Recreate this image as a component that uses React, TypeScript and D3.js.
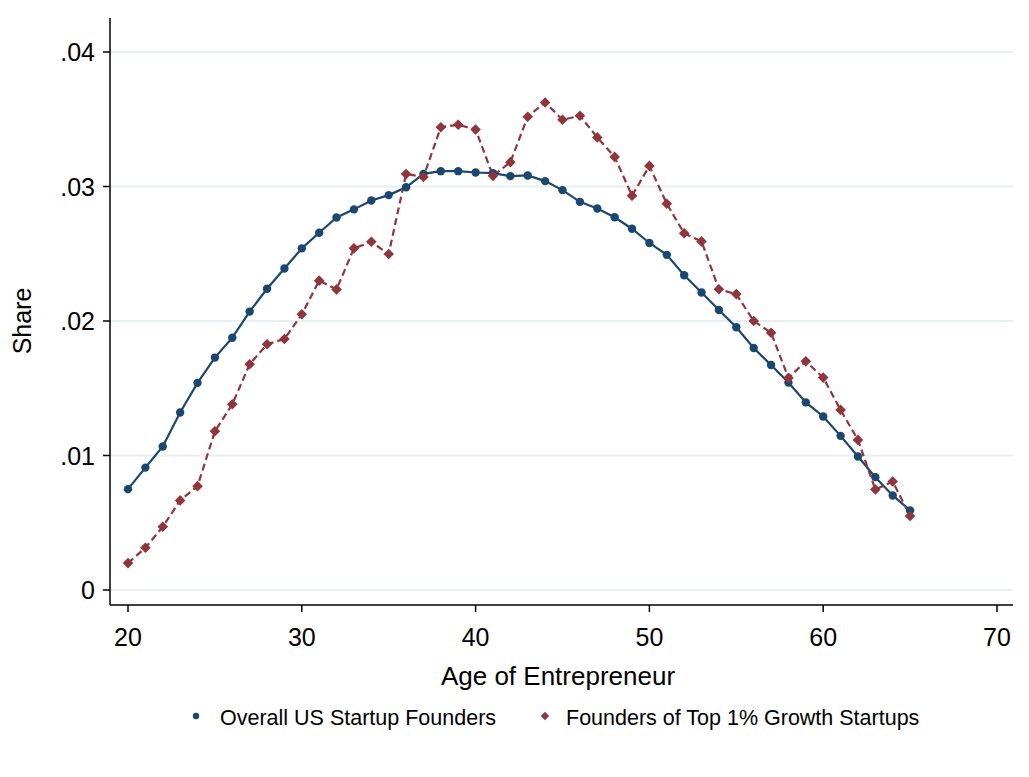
import React from "react";
import * as d3 from "d3";

const ages = d3.range(20, 66);

const overallShare = [
  0.0075, 0.0091, 0.01067, 0.0132, 0.0154, 0.01728, 0.01876, 0.0207, 0.0224, 0.0239,
  0.0254, 0.02656, 0.0277, 0.0283, 0.02896, 0.02936, 0.02994, 0.03094, 0.03114, 0.03114,
  0.03104, 0.03099, 0.03077, 0.03082, 0.0304, 0.02973, 0.02886, 0.02836, 0.02771, 0.02686,
  0.0258, 0.02492, 0.0234, 0.02212, 0.02082, 0.01954, 0.01799, 0.01673, 0.01542, 0.01395,
  0.0129, 0.01146, 0.00993, 0.00839, 0.00703, 0.00592,
];

const topGrowthShare = [
  0.002, 0.00314, 0.0047, 0.00666, 0.00772, 0.0118, 0.01381, 0.01678, 0.01827, 0.01866,
  0.0205, 0.023, 0.02235, 0.0254, 0.02589, 0.02498, 0.03093, 0.03071, 0.03441, 0.03459,
  0.03424, 0.03079, 0.03181, 0.03519, 0.03625, 0.03496, 0.03526, 0.03365, 0.0322, 0.02932,
  0.03153, 0.02872, 0.02652, 0.02592, 0.02236, 0.022, 0.02, 0.01913, 0.01577, 0.017,
  0.01579, 0.01339, 0.01116, 0.00747, 0.00807, 0.0055,
];

const xTicks = [20, 30, 40, 50, 60, 70];
const yTicks = [0, 0.01, 0.02, 0.03, 0.04];
const yTickLabels = ["0", ".01", ".02", ".03", ".04"];

const seriesNames = ["Overall US Startup Founders", "Founders of Top 1% Growth Startups"];

const BLUE = "#1a476f";
const RED = "#90353b";
const GRID = "#e8eff2";
const FONT = "'Liberation Sans', Arial, sans-serif";

const W = 1029;
const H = 777;
const axisLeft = 110;
const axisBottom = 605;
const plotRight = 1013;
const plotTop = 18;

export default function App() {
  const x = d3.scaleLinear().domain([20, 70]).range([128, 997]);
  const y = d3.scaleLinear().domain([0, 0.04]).range([590, 52]);

  const line = d3
    .line<[number, number]>()
    .x((d) => x(d[0]))
    .y((d) => y(d[1]));

  const blueData: [number, number][] = ages.map((a, i) => [a, overallShare[i]]);
  const redData: [number, number][] = ages.map((a, i) => [a, topGrowthShare[i]]);

  const diamond = (cx: number, cy: number, r: number) =>
    `M${cx},${cy - r}L${cx + r},${cy}L${cx},${cy + r}L${cx - r},${cy}Z`;

  return (
    <svg
      width={W}
      height={H}
      style={{ position: "absolute", left: 0, top: 0, background: "#fff" }}
      fontFamily={FONT}
    >
      <rect width={W} height={H} fill="#fff" />
      {/* horizontal grid */}
      {yTicks.map((t) => (
        <line
          key={"g" + t}
          x1={axisLeft}
          x2={plotRight}
          y1={y(t)}
          y2={y(t)}
          stroke={GRID}
          strokeWidth={2}
        />
      ))}

      {/* axes */}
      <line x1={axisLeft} x2={axisLeft} y1={plotTop} y2={axisBottom} stroke="#000" strokeWidth={1.5} />
      <line x1={axisLeft} x2={plotRight} y1={axisBottom} y2={axisBottom} stroke="#000" strokeWidth={1.5} />

      {yTicks.map((t, i) => (
        <g key={"y" + t}>
          <line x1={axisLeft - 7} x2={axisLeft} y1={y(t)} y2={y(t)} stroke="#000" strokeWidth={1.5} />
          <text x={axisLeft - 15} y={y(t) + 9} textAnchor="end" fontSize={25} fill="#000">
            {yTickLabels[i]}
          </text>
        </g>
      ))}

      {xTicks.map((t) => (
        <g key={"x" + t}>
          <line x1={x(t)} x2={x(t)} y1={axisBottom} y2={axisBottom + 7} stroke="#000" strokeWidth={1.5} />
          <text x={x(t)} y={646} textAnchor="middle" fontSize={25} fill="#000">
            {t}
          </text>
        </g>
      ))}

      <text x={558} y={685} textAnchor="middle" fontSize={26} fill="#000">
        Age of Entrepreneur
      </text>
      <text
        transform={`translate(31,${y(0.02)}) rotate(-90)`}
        textAnchor="middle"
        fontSize={25}
        fill="#000"
      >
        Share
      </text>

      {/* series */}
      <path d={line(blueData) || ""} fill="none" stroke={BLUE} strokeWidth={2.2} />
      <path d={line(redData) || ""} fill="none" stroke={RED} strokeWidth={2.2} strokeDasharray="7,4" />

      {blueData.map((d) => (
        <circle key={"b" + d[0]} cx={x(d[0])} cy={y(d[1])} r={4.2} fill={BLUE} />
      ))}
      {redData.map((d) => (
        <path key={"r" + d[0]} d={diamond(x(d[0]), y(d[1]), 5.3)} fill={RED} />
      ))}

      {/* legend */}
      <circle cx={196} cy={716} r={3.2} fill={BLUE} />
      <text x={220} y={725} fontSize={21.5} fill="#000">
        {seriesNames[0]}
      </text>
      <path d={diamond(545, 716, 4.2)} fill={RED} />
      <text x={566} y={725} fontSize={21.5} fill="#000">
        {seriesNames[1]}
      </text>
    </svg>
  );
}
